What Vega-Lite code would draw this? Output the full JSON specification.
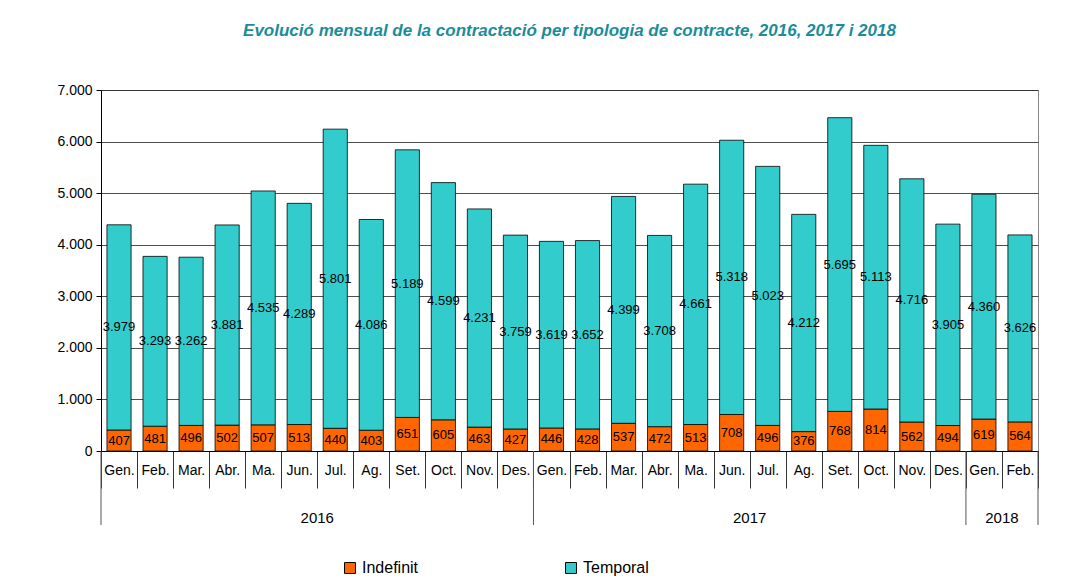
{
  "$schema": "https://vega.github.io/schema/vega-lite/v6.json",
  "autosize": "none",
  "width": 937,
  "height": 361,
  "padding": {"left": 101, "top": 90, "right": 29, "bottom": 128},
  "background": "white",
  "title": {
    "text": "Evolució mensual de la contractació per tipologia de contracte, 2016, 2017 i 2018",
    "font": "Liberation Sans",
    "fontSize": 17,
    "fontStyle": "italic",
    "fontWeight": "bold",
    "color": "#1a8c9a",
    "anchor": "middle",
    "offset": 43
  },
  "config": {
    "view": {"stroke": "#888888", "strokeWidth": 1},
    "font": "Liberation Sans"
  },
  "datasets": {
    "main": [
      {"periode": "Gen. 2016", "tipus": "Indefinit", "ordre": 1, "valor": 407},
      {"periode": "Gen. 2016", "tipus": "Temporal", "ordre": 2, "valor": 3979},
      {"periode": "Feb. 2016", "tipus": "Indefinit", "ordre": 1, "valor": 481},
      {"periode": "Feb. 2016", "tipus": "Temporal", "ordre": 2, "valor": 3293},
      {"periode": "Mar. 2016", "tipus": "Indefinit", "ordre": 1, "valor": 496},
      {"periode": "Mar. 2016", "tipus": "Temporal", "ordre": 2, "valor": 3262},
      {"periode": "Abr. 2016", "tipus": "Indefinit", "ordre": 1, "valor": 502},
      {"periode": "Abr. 2016", "tipus": "Temporal", "ordre": 2, "valor": 3881},
      {"periode": "Ma. 2016", "tipus": "Indefinit", "ordre": 1, "valor": 507},
      {"periode": "Ma. 2016", "tipus": "Temporal", "ordre": 2, "valor": 4535},
      {"periode": "Jun. 2016", "tipus": "Indefinit", "ordre": 1, "valor": 513},
      {"periode": "Jun. 2016", "tipus": "Temporal", "ordre": 2, "valor": 4289},
      {"periode": "Jul. 2016", "tipus": "Indefinit", "ordre": 1, "valor": 440},
      {"periode": "Jul. 2016", "tipus": "Temporal", "ordre": 2, "valor": 5801},
      {"periode": "Ag. 2016", "tipus": "Indefinit", "ordre": 1, "valor": 403},
      {"periode": "Ag. 2016", "tipus": "Temporal", "ordre": 2, "valor": 4086},
      {"periode": "Set. 2016", "tipus": "Indefinit", "ordre": 1, "valor": 651},
      {"periode": "Set. 2016", "tipus": "Temporal", "ordre": 2, "valor": 5189},
      {"periode": "Oct. 2016", "tipus": "Indefinit", "ordre": 1, "valor": 605},
      {"periode": "Oct. 2016", "tipus": "Temporal", "ordre": 2, "valor": 4599},
      {"periode": "Nov. 2016", "tipus": "Indefinit", "ordre": 1, "valor": 463},
      {"periode": "Nov. 2016", "tipus": "Temporal", "ordre": 2, "valor": 4231},
      {"periode": "Des. 2016", "tipus": "Indefinit", "ordre": 1, "valor": 427},
      {"periode": "Des. 2016", "tipus": "Temporal", "ordre": 2, "valor": 3759},
      {"periode": "Gen. 2017", "tipus": "Indefinit", "ordre": 1, "valor": 446},
      {"periode": "Gen. 2017", "tipus": "Temporal", "ordre": 2, "valor": 3619},
      {"periode": "Feb. 2017", "tipus": "Indefinit", "ordre": 1, "valor": 428},
      {"periode": "Feb. 2017", "tipus": "Temporal", "ordre": 2, "valor": 3652},
      {"periode": "Mar. 2017", "tipus": "Indefinit", "ordre": 1, "valor": 537},
      {"periode": "Mar. 2017", "tipus": "Temporal", "ordre": 2, "valor": 4399},
      {"periode": "Abr. 2017", "tipus": "Indefinit", "ordre": 1, "valor": 472},
      {"periode": "Abr. 2017", "tipus": "Temporal", "ordre": 2, "valor": 3708},
      {"periode": "Ma. 2017", "tipus": "Indefinit", "ordre": 1, "valor": 513},
      {"periode": "Ma. 2017", "tipus": "Temporal", "ordre": 2, "valor": 4661},
      {"periode": "Jun. 2017", "tipus": "Indefinit", "ordre": 1, "valor": 708},
      {"periode": "Jun. 2017", "tipus": "Temporal", "ordre": 2, "valor": 5318},
      {"periode": "Jul. 2017", "tipus": "Indefinit", "ordre": 1, "valor": 496},
      {"periode": "Jul. 2017", "tipus": "Temporal", "ordre": 2, "valor": 5023},
      {"periode": "Ag. 2017", "tipus": "Indefinit", "ordre": 1, "valor": 376},
      {"periode": "Ag. 2017", "tipus": "Temporal", "ordre": 2, "valor": 4212},
      {"periode": "Set. 2017", "tipus": "Indefinit", "ordre": 1, "valor": 768},
      {"periode": "Set. 2017", "tipus": "Temporal", "ordre": 2, "valor": 5695},
      {"periode": "Oct. 2017", "tipus": "Indefinit", "ordre": 1, "valor": 814},
      {"periode": "Oct. 2017", "tipus": "Temporal", "ordre": 2, "valor": 5113},
      {"periode": "Nov. 2017", "tipus": "Indefinit", "ordre": 1, "valor": 562},
      {"periode": "Nov. 2017", "tipus": "Temporal", "ordre": 2, "valor": 4716},
      {"periode": "Des. 2017", "tipus": "Indefinit", "ordre": 1, "valor": 494},
      {"periode": "Des. 2017", "tipus": "Temporal", "ordre": 2, "valor": 3905},
      {"periode": "Gen. 2018", "tipus": "Indefinit", "ordre": 1, "valor": 619},
      {"periode": "Gen. 2018", "tipus": "Temporal", "ordre": 2, "valor": 4360},
      {"periode": "Feb. 2018", "tipus": "Indefinit", "ordre": 1, "valor": 564},
      {"periode": "Feb. 2018", "tipus": "Temporal", "ordre": 2, "valor": 3626}
    ],
    "anys": [
      {"any": "2016", "periode": "Jun. 2016"},
      {"any": "2017", "periode": "Jun. 2017"},
      {"any": "2018", "periode": "Gen. 2018"}
    ],
    "separadors": [
      {"periode": "Gen. 2016"},
      {"periode": "Gen. 2017"},
      {"periode": "Gen. 2018"}
    ],
    "final": [
      {"periode": "Feb. 2018"}
    ]
  },
  "layer": [
    {
      "data": {"name": "main"},
      "mark": {"type": "bar", "width": {"band": 0.67}, "stroke": "#000000", "strokeWidth": 0.8},
      "encoding": {
        "x": {
          "field": "periode",
          "type": "nominal",
          "sort": null,
          "scale": {"paddingInner": 0, "paddingOuter": 0},
          "axis": {
            "title": null,
            "labelAngle": 0,
            "labelExpr": "split(datum.label, ' ')[0]",
            "labelFont": "Liberation Sans",
            "labelFontSize": 14,
            "labelColor": "#000000",
            "labelPadding": -18,
            "labelBaseline": "middle",
            "tickBand": "extent",
            "tickSize": 37,
            "tickColor": "#000000",
            "tickWidth": 0.8,
            "domainColor": "#000000",
            "domainWidth": 1,
            "grid": false
          }
        },
        "y": {
          "field": "valor",
          "type": "quantitative",
          "stack": "zero",
          "scale": {"domain": [0, 7000], "nice": false},
          "axis": {
            "title": null,
            "values": [0, 1000, 2000, 3000, 4000, 5000, 6000, 7000],
            "labelExpr": "replace(format(datum.value, ','), ',', '.')",
            "labelFont": "Liberation Sans",
            "labelFontSize": 14,
            "labelColor": "#000000",
            "labelPadding": 4,
            "tickSize": 5,
            "tickColor": "#000000",
            "domainColor": "#000000",
            "gridColor": "#222222",
            "gridWidth": 0.8
          }
        },
        "color": {
          "field": "tipus",
          "type": "nominal",
          "scale": {"domain": ["Indefinit", "Temporal"], "range": ["#ff6600", "#33cccc"]},
          "legend": {
            "title": null,
            "orient": "none",
            "direction": "horizontal",
            "legendX": 241,
            "legendY": 470,
            "symbolType": "square",
            "symbolSize": 120,
            "symbolStrokeColor": "#000000",
            "symbolStrokeWidth": 1,
            "symbolOpacity": 1,
            "labelFont": "Liberation Sans",
            "labelFontSize": 16,
            "labelColor": "#000000",
            "labelOffset": 4,
            "columnPadding": 144
          }
        },
        "order": {"field": "ordre", "type": "quantitative"}
      }
    },
    {
      "data": {"name": "main"},
      "transform": [
        {"stack": "valor", "groupby": ["periode"], "sort": [{"field": "ordre", "order": "ascending"}], "as": ["v0", "v1"]},
        {"calculate": "(datum.v0 + datum.v1) / 2", "as": "mig"},
        {"calculate": "replace(format(datum.valor, ','), ',', '.')", "as": "etiqueta"}
      ],
      "mark": {"type": "text", "font": "Liberation Sans", "fontSize": 13, "color": "#000000", "baseline": "middle", "align": "center"},
      "encoding": {
        "x": {"field": "periode", "type": "nominal", "sort": null},
        "y": {"field": "mig", "type": "quantitative"},
        "text": {"field": "etiqueta"}
      }
    },
    {
      "data": {"name": "anys"},
      "mark": {"type": "text", "font": "Liberation Sans", "fontSize": 15, "color": "#000000", "baseline": "middle", "align": "center"},
      "encoding": {
        "x": {"field": "periode", "type": "nominal", "sort": null, "bandPosition": 1},
        "y": {"datum": -1290},
        "text": {"field": "any"}
      }
    },
    {
      "data": {"name": "separadors"},
      "mark": {"type": "rule", "color": "#555555", "strokeWidth": 1},
      "encoding": {
        "x": {"field": "periode", "type": "nominal", "sort": null, "bandPosition": 0},
        "y": {"datum": 0},
        "y2": {"datum": -1435}
      }
    },
    {
      "data": {"name": "final"},
      "mark": {"type": "rule", "color": "#555555", "strokeWidth": 1},
      "encoding": {
        "x": {"field": "periode", "type": "nominal", "sort": null, "bandPosition": 1},
        "y": {"datum": 0},
        "y2": {"datum": -1435}
      }
    }
  ]
}
